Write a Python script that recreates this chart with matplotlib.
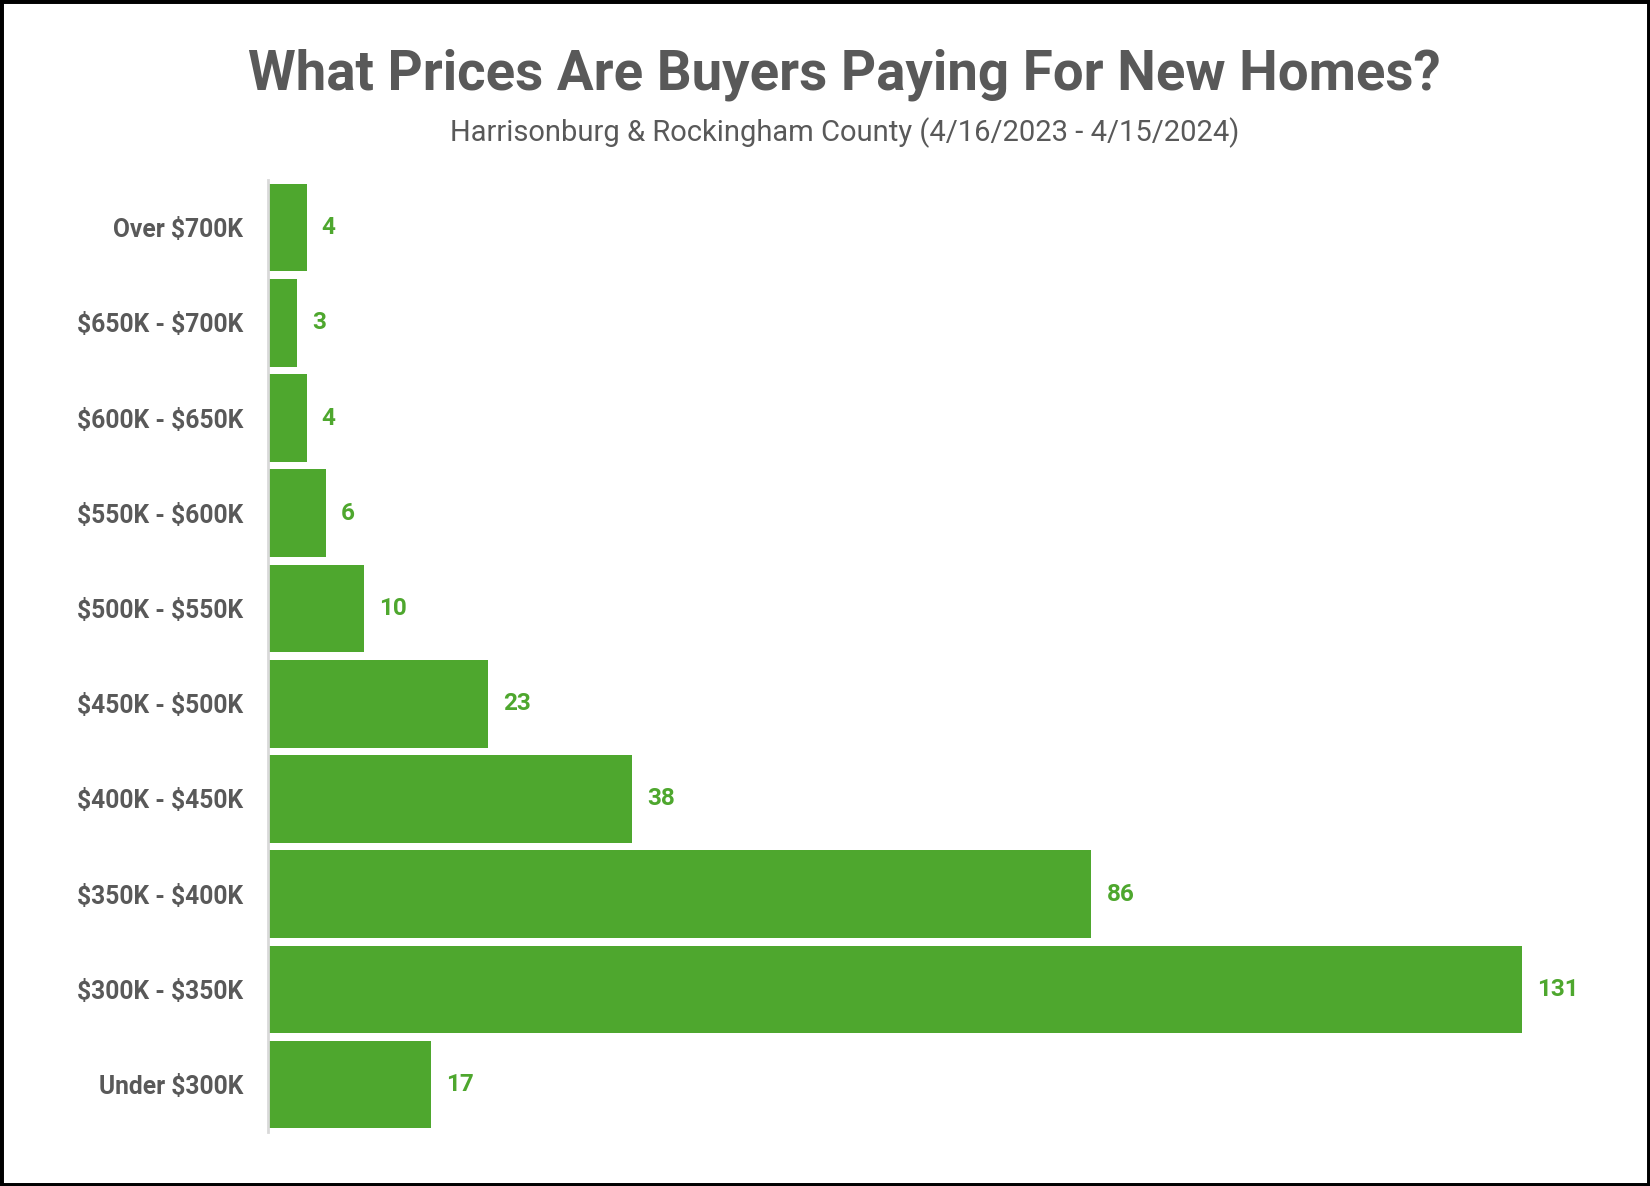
import matplotlib.pyplot as plt
from matplotlib.patches import Rectangle

categories = [
    "Under $300K",
    "$300K - $350K",
    "$350K - $400K",
    "$400K - $450K",
    "$450K - $500K",
    "$500K - $550K",
    "$550K - $600K",
    "$600K - $650K",
    "$650K - $700K",
    "Over $700K",
]
counts = [17, 131, 86, 38, 23, 10, 6, 4, 3, 4]

title = "What Prices Are Buyers Paying For New Homes?"
subtitle = "Harrisonburg & Rockingham County (4/16/2023 - 4/15/2024)"

bar_color = "#4EA72E"
text_gray = "#595959"

plt.rcParams["font.family"] = ["Roboto", "DejaVu Sans"]
plt.rcParams["text.parse_math"] = False

fig = plt.figure(figsize=(16.5, 11.86), dpi=100)
ax = fig.add_axes([0.1626, 0.0453, 0.806, 0.8030])

positions = list(range(len(categories)))
bars = ax.barh(positions, counts, height=0.92, color=bar_color)

ax.set_xlim(0, 139)
ax.set_ylim(-0.5, len(categories) - 0.5)
ax.set_yticks(positions)
ax.set_yticklabels(categories, fontsize=17.7, fontweight="bold", color=text_gray)
ax.tick_params(axis="y", length=0, pad=18)
ax.set_xticks([])

for side in ["top", "right", "bottom"]:
    ax.spines[side].set_visible(False)
ax.spines["left"].set_color("#d9d9d9")
ax.spines["left"].set_linewidth(2)

ax.bar_label(bars, labels=[str(c) for c in counts], padding=11,
             fontsize=17.5, fontweight="bold", color=bar_color)

fig.text(0.512, 0.937, title, ha="center", va="center",
         fontsize=39.3, fontweight="bold", color=text_gray)
fig.text(0.512, 0.888, subtitle, ha="center", va="center",
         fontsize=21, color=text_gray)

fig.patches.append(Rectangle((0, 0), 1, 1, transform=fig.transFigure,
                             fill=False, edgecolor="black", linewidth=5))

fig.savefig("out.png", dpi=100, facecolor="white")
plt.close(fig)
